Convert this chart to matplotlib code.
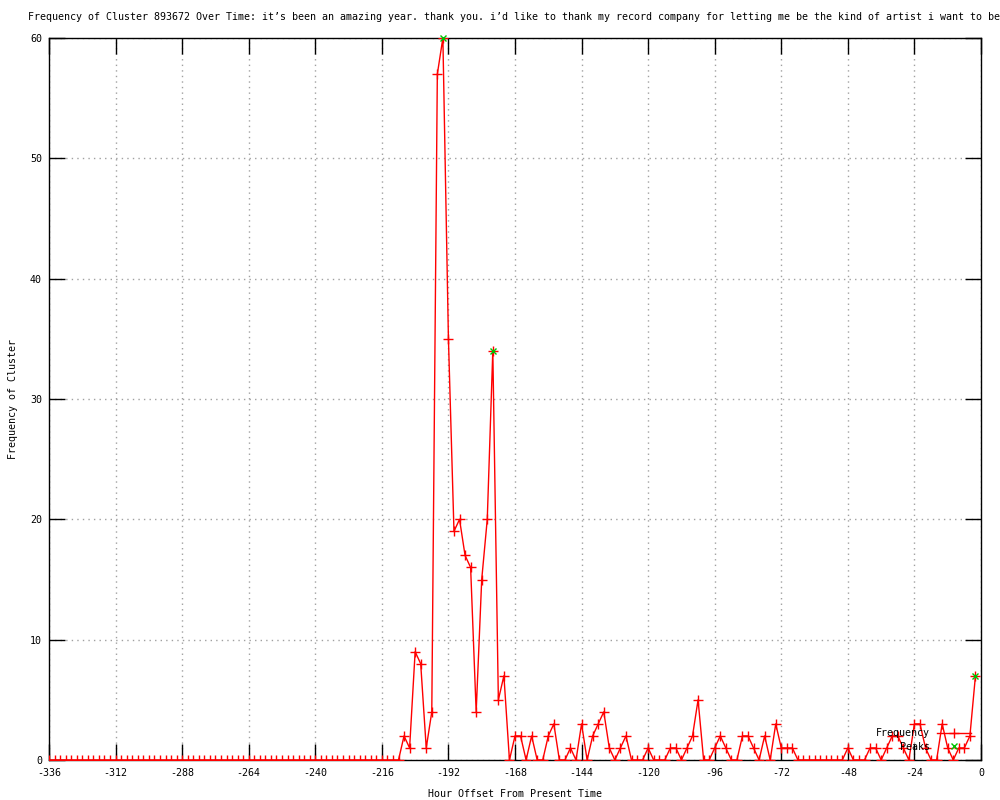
#!/usr/bin/env python3
import numpy as np
import matplotlib
matplotlib.use('Agg')
import matplotlib.pyplot as plt

# hour offsets, one bin every 2 hours
hours = np.arange(-336, 0, 2)

freq = [
    0, 0, 0, 0, 0, 0, 0, 0, 0, 0, 0, 0,        # -336 .. -314
    0, 0, 0, 0, 0, 0, 0, 0, 0, 0, 0, 0,        # -312 .. -290
    0, 0, 0, 0, 0, 0, 0, 0, 0, 0, 0, 0,        # -288 .. -266
    0, 0, 0, 0, 0, 0, 0, 0, 0, 0, 0, 0,        # -264 .. -242
    0, 0, 0, 0, 0, 0, 0, 0, 0, 0, 0, 0,        # -240 .. -218
    0, 0, 0, 0, 2, 1, 9, 8, 1, 4, 57, 60,      # -216 .. -194
    35, 19, 20, 17, 16, 4, 15, 20, 34, 5, 7, 0,  # -192 .. -170
    2, 2, 0, 2, 0, 0, 2, 3, 0, 0, 1, 0,        # -168 .. -146
    3, 0, 2, 3, 4, 1, 0, 1, 2, 0, 0, 0,        # -144 .. -122
    1, 0, 0, 0, 1, 1, 0, 1, 2, 5, 0, 0,        # -120 .. -98
    1, 2, 1, 0, 0, 2, 2, 1, 0, 2, 0, 3,        # -96 .. -74
    1, 1, 1, 0, 0, 0, 0, 0, 0, 0, 0, 0,        # -72 .. -50
    1, 0, 0, 0, 1, 1, 0, 1, 2, 2, 1, 0,        # -48 .. -26
    3, 3, 1, 0, 0, 3, 1, 0, 1, 1, 2, 7,        # -24 .. -2
]

peak_hours = [-194, -176, -2]
peak_vals = [60, 34, 7]

xticks = list(range(-336, 1, 24))
yticks = list(range(0, 61, 10))

title = ("Frequency of Cluster 893672 Over Time: it\u2019s been an amazing year. "
         "thank you. i\u2019d like to thank my record company for letting me be "
         "the kind of artist i want to be")

plt.rcParams['font.family'] = ['DejaVu Sans Mono']
plt.rcParams['axes.unicode_minus'] = False
fs = 7.2

fig = plt.figure(figsize=(10, 8), dpi=100)
ax = fig.add_axes([0.049, 0.05, 0.932, 0.9025])

ax.plot(hours, freq, color='#ff0000', lw=1, marker='+', ms=7, mew=1,
        label='Frequency', zorder=3)
ax.plot(peak_hours, peak_vals, ls='none', color='#00c000', marker='x', ms=5,
        mew=1, label='Peaks', zorder=4, clip_on=False)

ax.set_xlim(-336, 0)
ax.set_ylim(0, 60)
ax.set_xticks(xticks)
ax.set_yticks(yticks)
ax.tick_params(direction='in', length=11.5, width=1, top=True, right=True,
               labelsize=fs, colors='black')
ax.tick_params(axis='x', pad=6)
ax.tick_params(axis='y', pad=5)
ax.grid(True, color='#a0a0a0', linestyle=(0, (1, 3)), linewidth=1)
for s in ax.spines.values():
    s.set_linewidth(1)

ax.set_xlabel('Hour Offset From Present Time', fontsize=fs, labelpad=8)
ax.set_ylabel('Frequency of Cluster', fontsize=fs, labelpad=9)
fig.text(0.028, 1 - 17 / 800, title, ha='left', va='center', fontsize=fs)

ax.legend(loc='upper right', bbox_to_anchor=(0.971, 1 - 728 / 800),
          bbox_transform=fig.transFigure, frameon=False, markerfirst=False,
          fontsize=fs, handlelength=3.4, handletextpad=0.7, labelspacing=0.38,
          borderpad=0, borderaxespad=0)

fig.savefig('out.png', dpi=100)
